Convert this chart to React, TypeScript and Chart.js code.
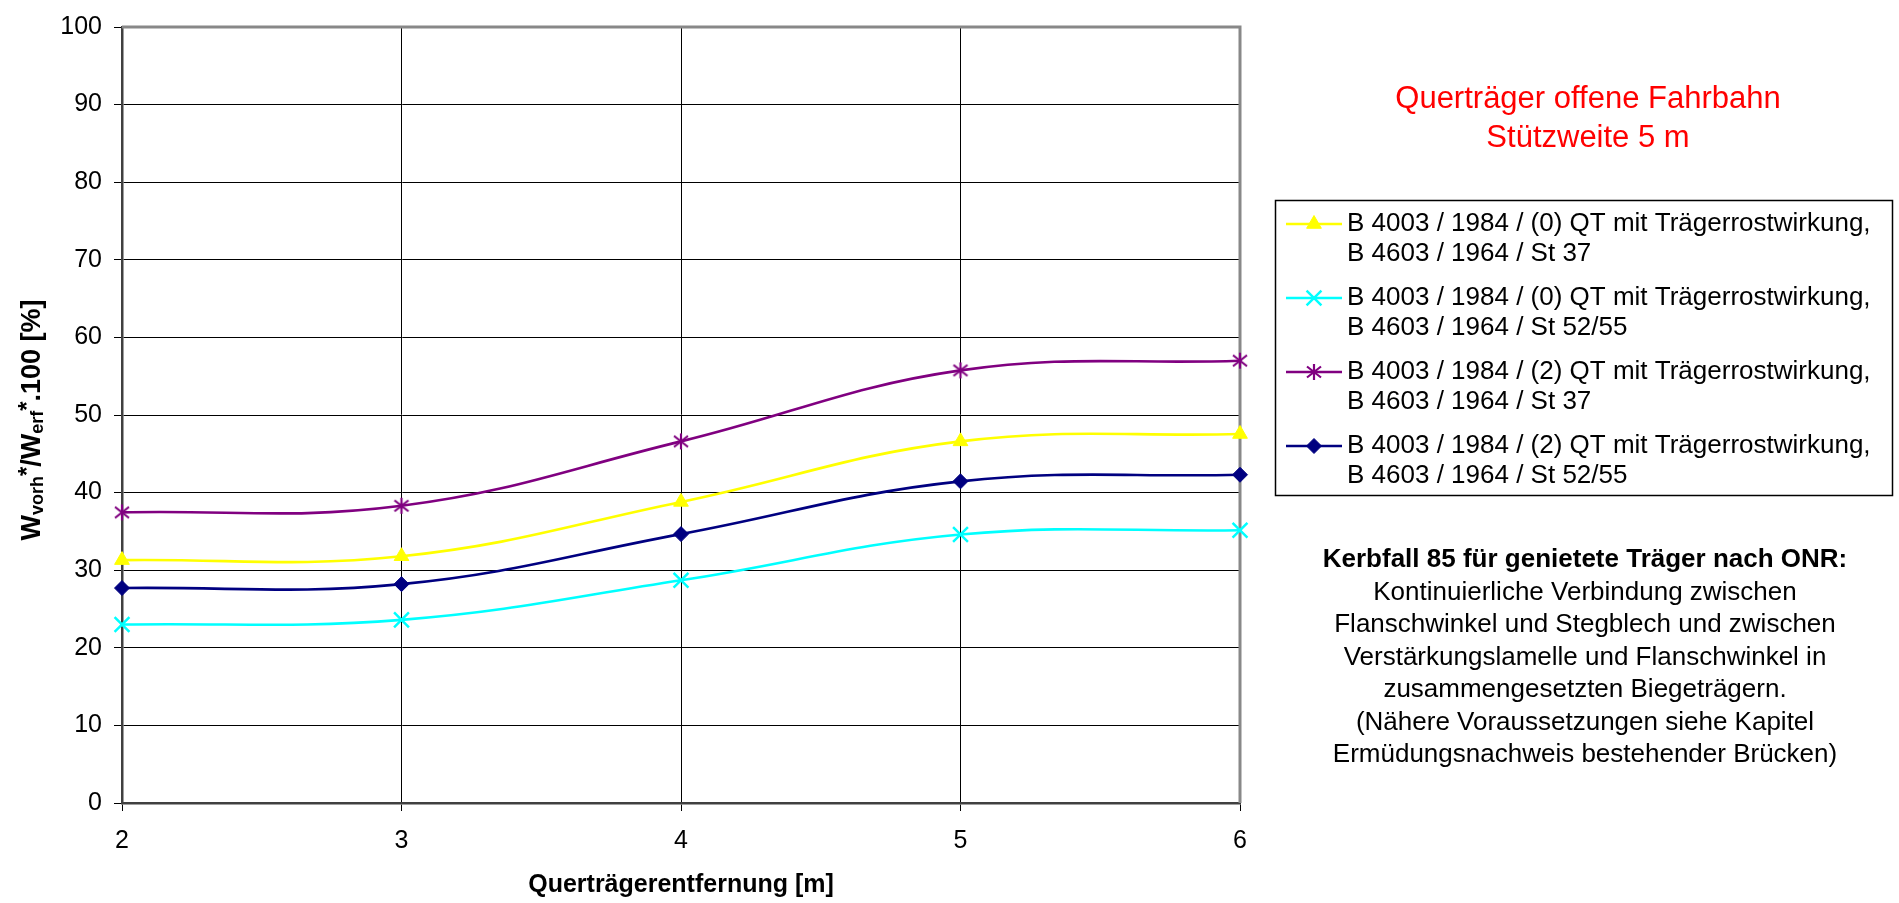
import React, { useEffect, useRef } from 'react';
import { Chart, registerables } from 'chart.js';
import { drawPoint } from 'chart.js/helpers';

Chart.register(...registerables);

// ---------- data ----------
const xValues = [2, 3, 4, 5, 6];
const seriesLabels = [
  'B 4003 / 1984 / (0) QT mit Trägerrostwirkung,\nB 4603 / 1964 / St 37',
  'B 4003 / 1984 / (0) QT mit Trägerrostwirkung,\nB 4603 / 1964 / St 52/55',
  'B 4003 / 1984 / (2) QT mit Trägerrostwirkung,\nB 4603 / 1964 / St 37',
  'B 4003 / 1984 / (2) QT mit Trägerrostwirkung,\nB 4603 / 1964 / St 52/55',
];
const qt0St37 = [31.3, 31.8, 38.8, 46.6, 47.55];
const qt0St52 = [23.0, 23.6, 28.7, 34.6, 35.15];
const qt2St37 = [37.45, 38.3, 46.6, 55.75, 57.0];
const qt2St52 = [27.7, 28.2, 34.65, 41.45, 42.3];
const yMin = 0;
const yMax = 100;
const yStep = 10;
const xTitle = 'Querträgerentfernung [m]';
const yTitleSegments = ['W', 'vorh', '*', '/W', 'erf', '*', '.100 [%]'];
const titleLines = ['Querträger offene Fahrbahn', 'Stützweite 5 m'];
const noteBold = 'Kerbfall 85 für genietete Träger nach ONR:';
const noteLines = [
  'Kontinuierliche Verbindung zwischen',
  'Flanschwinkel und Stegblech und zwischen',
  'Verstärkungslamelle und Flanschwinkel in',
  'zusammengesetzten Biegeträgern.',
  '(Nähere Voraussetzungen siehe Kapitel',
  'Ermüdungsnachweis bestehender Brücken)',
];

const FONT = '"Liberation Sans", Arial, Helvetica, sans-serif';

function makeStar(color: string): HTMLCanvasElement {
  const c = document.createElement('canvas');
  c.width = 20;
  c.height = 20;
  const g = c.getContext('2d')!;
  g.strokeStyle = color;
  g.lineWidth = 2.2;
  g.lineCap = 'butt';
  g.beginPath();
  g.moveTo(10, 2);
  g.lineTo(10, 18);
  g.moveTo(3, 4.5);
  g.lineTo(17, 15.5);
  g.moveTo(17, 4.5);
  g.lineTo(3, 15.5);
  g.stroke();
  return c;
}

export default function App() {
  const ref = useRef<HTMLCanvasElement | null>(null);

  useEffect(() => {
    const canvas = ref.current;
    if (!canvas) return;

    const seriesValues = [qt0St37, qt0St52, qt2St37, qt2St52];
    const colors = ['#FFFF00', '#00FFFF', '#800080', '#000080'];
    const star = makeStar('#800080');
    const styles: any[] = [
      { pointStyle: 'triangle', radius: 8.5, borderWidth: 1 },
      { pointStyle: 'crossRot', radius: 10.5, borderWidth: 2.5 },
      { pointStyle: star, radius: 8, borderWidth: 2 },
      { pointStyle: 'rectRot', radius: 7.5, borderWidth: 1 },
    ];

    const datasets = seriesValues.map((vals, i) => ({
      label: seriesLabels[i],
      data: xValues.map((x, j) => ({ x, y: vals[j] })),
      borderColor: colors[i],
      backgroundColor: colors[i],
      borderWidth: 2.6,
      pointStyle: styles[i].pointStyle,
      pointRadius: styles[i].radius,
      pointBorderWidth: styles[i].borderWidth,
      pointBackgroundColor: colors[i],
      pointBorderColor: colors[i],
      tension: 0.4,
      fill: false,
      clip: false as any,
    }));

    const framePlugin = {
      id: 'frame',
      beforeDatasetsDraw(chart: any) {
        const { ctx, chartArea } = chart;
        ctx.save();
        ctx.strokeStyle = '#888888';
        ctx.lineWidth = 3;
        ctx.beginPath();
        ctx.moveTo(chartArea.left, chartArea.top);
        ctx.lineTo(chartArea.right, chartArea.top);
        ctx.lineTo(chartArea.right, chartArea.bottom);
        ctx.stroke();
        ctx.restore();
      },
    };

    const textPlugin = {
      id: 'texts',
      afterDraw(chart: any) {
        const { ctx, chartArea } = chart;
        ctx.save();

        // X axis title
        ctx.fillStyle = '#000';
        ctx.font = `bold 25px ${FONT}`;
        ctx.textAlign = 'center';
        ctx.textBaseline = 'alphabetic';
        ctx.fillText(xTitle, (chartArea.left + chartArea.right) / 2, 892);

        // Y axis title with sub/superscripts
        const kinds = ['main', 'sub', 'sup', 'main', 'sub', 'sup', 'main'];
        const fontFor = (k: string) =>
          k === 'main' ? `bold 27px ${FONT}` : k === 'sub' ? `bold 18px ${FONT}` : `bold 24px ${FONT}`;
        const dyFor = (k: string) => (k === 'main' ? 0 : k === 'sub' ? 3 : -5);
        let total = 0;
        const widths: number[] = [];
        yTitleSegments.forEach((s, i) => {
          ctx.font = fontFor(kinds[i]);
          const w = ctx.measureText(s).width;
          widths.push(w);
          total += w;
        });
        ctx.translate(30, (chartArea.top + chartArea.bottom) / 2 + 5);
        ctx.rotate(-Math.PI / 2);
        ctx.textAlign = 'left';
        let cx = -total / 2;
        yTitleSegments.forEach((s, i) => {
          ctx.font = fontFor(kinds[i]);
          ctx.fillText(s, cx, 10 + dyFor(kinds[i]));
          cx += widths[i];
        });
        ctx.setTransform(1, 0, 0, 1, 0, 0);

        // Red title
        ctx.fillStyle = '#FF0000';
        ctx.font = `31px ${FONT}`;
        ctx.textAlign = 'center';
        titleLines.forEach((t, i) => ctx.fillText(t, 1588, 108 + i * 39));

        // Legend
        const lx = 1275.5, ly = 200.5, lw = 617, lh = 295;
        ctx.strokeStyle = '#000';
        ctx.lineWidth = 1.5;
        ctx.strokeRect(lx, ly, lw, lh);
        ctx.font = `26px ${FONT}`;
        ctx.textAlign = 'left';
        ctx.textBaseline = 'middle';
        datasets.forEach((ds, i) => {
          const y1 = 224 + i * 74;
          ctx.strokeStyle = ds.borderColor;
          ctx.lineWidth = 2.5;
          ctx.beginPath();
          ctx.moveTo(1286, y1);
          ctx.lineTo(1342, y1);
          ctx.stroke();
          ctx.fillStyle = ds.borderColor;
          ctx.strokeStyle = ds.borderColor;
          ctx.lineWidth = styles[i].borderWidth;
          drawPoint(ctx, { pointStyle: styles[i].pointStyle, radius: styles[i].radius, borderWidth: styles[i].borderWidth, rotation: 0 } as any, 1314, y1);
          ctx.fillStyle = '#000';
          ds.label.split('\n').forEach((line: string, k: number) => {
            ctx.fillText(line, 1347, y1 + k * 29.5);
          });
        });

        // Note
        ctx.fillStyle = '#000';
        ctx.textAlign = 'center';
        ctx.textBaseline = 'alphabetic';
        ctx.font = `bold 26px ${FONT}`;
        ctx.fillText(noteBold, 1585, 567);
        ctx.font = `26px ${FONT}`;
        noteLines.forEach((t, i) => ctx.fillText(t, 1585, 567 + (i + 1) * 32.5));

        ctx.restore();
      },
    };

    const tickFont = { family: FONT, size: 25 };
    const chart = new Chart(canvas, {
      type: 'line',
      data: { datasets: datasets as any },
      options: {
        animation: false,
        responsive: false,
        maintainAspectRatio: false,
        events: [],
        layout: { padding: { left: 0, top: 19, right: 659, bottom: 0 } },
        plugins: {
          legend: { display: false },
          tooltip: { enabled: false },
        },
        scales: {
          x: {
            type: 'linear',
            min: 2,
            max: 6,
            ticks: { stepSize: 1, font: tickFont, color: '#000', padding: 15, maxRotation: 0 },
            grid: { color: '#000', lineWidth: 1, tickLength: 8, drawTicks: true },
            border: { color: '#404040', width: 2.5 },
            afterFit: (s: any) => {
              s.height = 100;
            },
          },
          y: {
            type: 'linear',
            min: yMin,
            max: yMax,
            ticks: { stepSize: yStep, font: tickFont, color: '#000', padding: 12 },
            grid: { color: '#000', lineWidth: 1, tickLength: 8, drawTicks: true },
            border: { color: '#404040', width: 2.5 },
            afterFit: (s: any) => {
              s.width = 122;
            },
          },
        },
      } as any,
      plugins: [framePlugin, textPlugin],
    });

    return () => chart.destroy();
  }, []);

  return (
    <div style={{ position: 'fixed', left: 0, top: 0, width: 1899, height: 903, background: '#fff' }}>
      <canvas ref={ref} width={1899} height={903} style={{ display: 'block' }} />
    </div>
  );
}
